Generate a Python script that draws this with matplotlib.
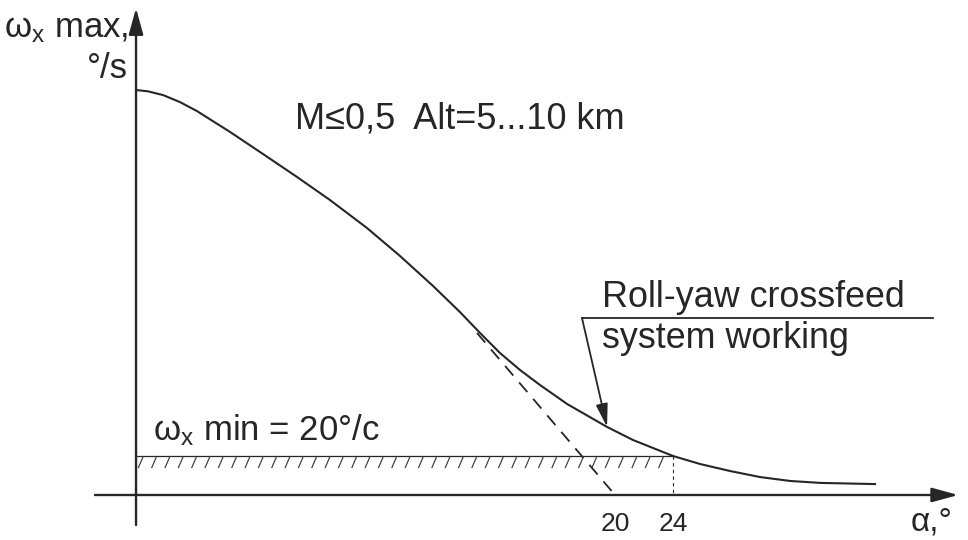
import numpy as np
import matplotlib
matplotlib.use("Agg")
import matplotlib.pyplot as plt
from matplotlib.collections import LineCollection

plt.rcParams['font.family'] = ['Liberation Sans', 'DejaVu Sans']
plt.rcParams['mathtext.fontset'] = 'custom'
plt.rcParams['mathtext.rm'] = 'Liberation Sans'
plt.rcParams['mathtext.it'] = 'Liberation Sans'

# schematic curve: angle of attack (deg) vs max roll rate (deg/s)
alpha = [-13.03, -12.2, -11.17, -10.0, -8.83, -6.55, -4.28, -1.93, 0.34, 2.90,
         5.17, 7.45, 9.31, 10.69, 12.07, 13.45, 14.83, 16.69, 19.45, 21.24,
         24.0, 25.86, 27.93, 30.0, 32.07, 34.14, 37.93]
omega_max = [207.7, 207.0, 205.1, 201.5, 196.9, 186.2, 174.9, 163.1, 151.3, 136.9,
             122.6, 107.2, 93.8, 83.1, 72.8, 64.1, 56.4, 46.7, 34.9, 28.2,
             20.0, 15.9, 12.3, 9.2, 7.2, 6.2, 5.6]

# tangent extrapolation (dashed) without crossfeed
tangent_alpha = [10.48, 20.0]
tangent_omega = [83.1, 0.0]

omega_min = 20.0
alpha_cross = 24.0
band_low = 13.8
tick_vals = [20, 24]

axis_x = -13.03          # where the vertical axis is drawn
ink = '#262626'

fig = plt.figure(figsize=(9.68, 5.4), dpi=100)
ax = fig.add_axes([0, 0, 1, 1])
ax.set_xlim(-22.41, 44.34)
ax.set_ylim(-23.08, 253.85)
ax.axis('off')

# axes with arrows
arrow = dict(arrowstyle='-|>,head_length=0.8,head_width=0.22', mutation_scale=20,
             lw=1.7, color=ink, shrinkA=0, shrinkB=0)
ax.annotate('', xy=(43.66, 0), xytext=(-15.86, 0), arrowprops=arrow)
ax.annotate('', xy=(axis_x, 249.7), xytext=(axis_x, -15.4), arrowprops=arrow)

# main curve and dashed tangent
ax.plot(alpha, omega_max, color=ink, lw=1.5, solid_joinstyle='round')
ax.plot(tangent_alpha, tangent_omega, color=ink, lw=1.3, dashes=(7, 5))

# omega_min band with hatching
ax.plot([axis_x, alpha_cross], [omega_min, omega_min], color=ink, lw=0.9)
step = 0.92
slant = 0.36
segs = []
for a0 in np.arange(axis_x + 0.15, alpha_cross - slant, step):
    segs.append([(a0, band_low), (a0 + slant, omega_min)])
ax.add_collection(LineCollection(segs, colors='#3a3a3a', linewidths=0.85))
ax.plot([alpha_cross, alpha_cross], [omega_min, 0], color=ink, lw=0.8, dashes=(3, 3))

# tick labels
for v in tick_vals:
    ax.text(v, -8.5, str(v), ha='center', va='top', fontsize=19, color=ink)

# axis labels
ax.text(-13.59, 234.9, r'$\mathrm{ω}_{\mathrm{x}}$ max,', ha='right', va='baseline',
        fontsize=25, color=ink)
ax.text(-13.59, 213.8, '°/s', ha='right', va='baseline', fontsize=25, color=ink)
ax.text(40.4, -18.3, 'α,°', ha='left', va='baseline', fontsize=24, color=ink)

# annotations
ax.text(-2.07, 188.2, 'M≤0,5  Alt=5...10 km', ha='left', va='baseline',
        fontsize=26, color=ink)
ax.text(-11.86, 28.2, r'$\mathrm{ω}_{\mathrm{x}}$ min = 20°/c', ha='left',
        va='baseline', fontsize=25, color=ink)
ax.text(19.1, 96.4, 'Roll-yaw crossfeed', ha='left', va='baseline',
        fontsize=25.8, color=ink)
ax.text(19.1, 75.4, 'system working', ha='left', va='baseline',
        fontsize=25.8, color=ink)
ax.plot([17.72, 41.93], [90.8, 90.8], color=ink, lw=1.3)
ax.annotate('', xy=(19.45, 34.9), xytext=(17.72, 90.8),
            arrowprops=dict(arrowstyle='-|>,head_length=0.7,head_width=0.18',
                            mutation_scale=20, lw=1.3, color=ink,
                            shrinkA=0, shrinkB=0))

fig.savefig('out.png', dpi=100)
